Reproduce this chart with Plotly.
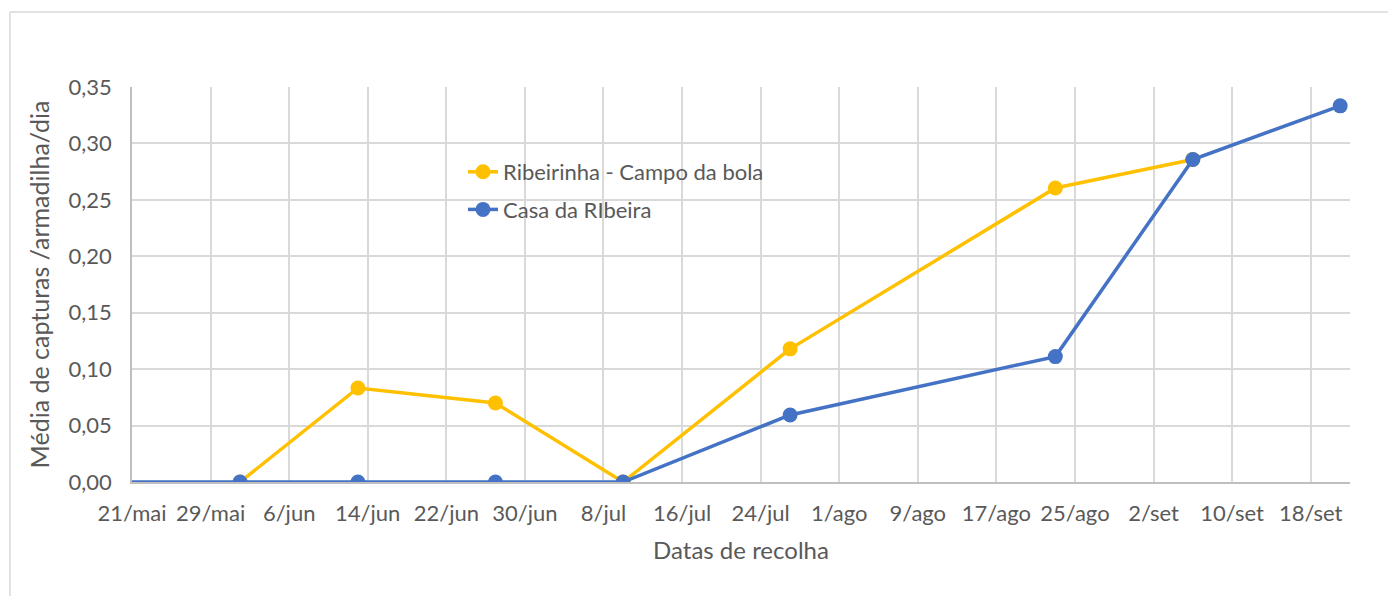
import plotly.graph_objects as go

# ---- data ----
dates_yellow = ["2021-06-01", "2021-06-13", "2021-06-27", "2021-07-10", "2021-07-27", "2021-08-23", "2021-09-06"]
vals_yellow = [0.0, 0.0833, 0.070, 0.0, 0.118, 0.2605, 0.2857]

# first blue point lies before the axis start (clipped), producing the line along 0 from the left edge
dates_blue = ["2021-05-14", "2021-06-01", "2021-06-13", "2021-06-27", "2021-07-10", "2021-07-27", "2021-08-23", "2021-09-06", "2021-09-21"]
vals_blue = [0.0, 0.0, 0.0, 0.0, 0.0, 0.0594, 0.1111, 0.2857, 0.3333]

tick_dates = ["2021-05-21", "2021-05-29", "2021-06-06", "2021-06-14", "2021-06-22", "2021-06-30",
              "2021-07-08", "2021-07-16", "2021-07-24", "2021-08-01", "2021-08-09", "2021-08-17",
              "2021-08-25", "2021-09-02", "2021-09-10", "2021-09-18"]
tick_labels = ["21/mai", "29/mai", "6/jun", "14/jun", "22/jun", "30/jun", "8/jul", "16/jul",
               "24/jul", "1/ago", "9/ago", "17/ago", "25/ago", "2/set", "10/set", "18/set"]

name_yellow = "Ribeirinha - Campo da bola"
name_blue = "Casa da RIbeira"

YELLOW = "#FFC000"
BLUE = "#4472C4"
TEXT = "#595959"
GRID = "#D9D9D9"
FONT = "Lato, 'Open Sans', sans-serif"

fig = go.Figure()
fig.add_trace(go.Scatter(
    x=dates_yellow, y=vals_yellow, name=name_yellow, mode="lines+markers", legendgroup="a",
    line=dict(color=YELLOW, width=3.5), marker=dict(color=YELLOW, size=15, opacity=1),
))
fig.add_trace(go.Scatter(
    x=dates_blue, y=vals_blue, name=name_blue, mode="lines+markers", legendgroup="b",
    line=dict(color=BLUE, width=3.5), marker=dict(color=BLUE, size=15, opacity=1),
    cliponaxis=True,
))

# page has an 8px body offset; work in reference pixel coords minus 8
OFF = 8
L, R, T, B = 132 - OFF, 1396 - (1350 - OFF), 87 - OFF, 596 - (482 - OFF)
W = 1396 - L - R
H = 596 - T - B
def px_x(p):
    return (p - OFF - L) / W
def px_y(p):
    return (596 - B - (p - OFF)) / H

shapes = [
    dict(type="line", xref="paper", yref="paper", x0=px_x(10), x1=px_x(1410), y0=px_y(12), y1=px_y(12),
         line=dict(color="#D9D9D9", width=1.5)),
    dict(type="line", xref="paper", yref="paper", x0=px_x(10), x1=px_x(10), y0=px_y(12), y1=px_y(610),
         line=dict(color="#D9D9D9", width=1.5)),
]

fig.update_layout(
    width=1396, height=596,
    margin=dict(l=L, r=R, t=T, b=B),
    paper_bgcolor="white", plot_bgcolor="white",
    font=dict(family=FONT, color=TEXT, size=22),
    separators=",.",
    showlegend=True,
    legend=dict(x=px_x(463), y=px_y(151), xanchor="left", yanchor="top",
                bgcolor="rgba(0,0,0,0)", font=dict(size=22, color=TEXT),
                tracegroupgap=6),
    shapes=shapes,
    xaxis=dict(
        type="date", range=["2021-05-21", "2021-09-22"],
        tickvals=tick_dates, ticktext=tick_labels,
        showgrid=True, gridcolor=GRID, gridwidth=1.5,
        showline=True, linecolor="#BFBFBF", linewidth=1.5,
        ticks="", tickfont=dict(size=22, color=TEXT), ticklabelstandoff=11,
        title=dict(text="Datas de recolha", font=dict(size=24, color=TEXT), standoff=17),
        zeroline=False,
    ),
    yaxis=dict(
        range=[0, 0.35], dtick=0.05, tickformat=".2f",
        showgrid=True, gridcolor=GRID, gridwidth=1.5,
        showline=True, linecolor="#BFBFBF", linewidth=1.5,
        ticks="", tickfont=dict(size=22, color=TEXT), ticklabelstandoff=14,
        title=dict(text="Média de capturas /armadilha/dia", font=dict(size=25, color=TEXT), standoff=12),
        zeroline=False,
    ),
)

fig.write_html("out.html")
